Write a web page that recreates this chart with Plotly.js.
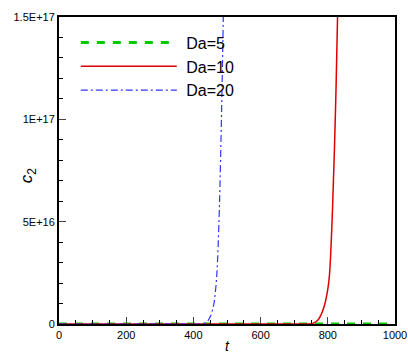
<!DOCTYPE html>
<html>
<head>
<meta charset="utf-8">
<script src="https://cdn.plot.ly/plotly-3.0.1.min.js"></script>
<style>html,body{margin:0;padding:0;background:#fff;}#chart{width:408px;height:354px;}</style>
</head>
<body>
<div id="chart"></div>
<script>
var tDa5 = [0, 100, 200, 300, 400, 500, 600, 700, 800, 900, 1000];
var cDa5 = [0, 0, 0, 0, 0, 0, 0, 0, 0, 0, 0];

var tDa10 = [0, 700, 740, 755, 770, 780, 790, 800, 805, 814, 823, 829, 832];
var cDa10 = [0, 0, 0, 0.003e17, 0.018e17, 0.045e17, 0.09e17, 0.17e17, 0.24e17, 0.56e17, 1.05e17, 1.5e17, 1.75e17];

var tDa20 = [0, 400, 428, 440, 450, 460, 465, 470, 477, 484, 489, 492];
var cDa20 = [0, 0, 0, 0.01e17, 0.035e17, 0.09e17, 0.15e17, 0.25e17, 0.55e17, 1.05e17, 1.5e17, 1.8e17];

var xTicks = [0, 200, 400, 600, 800, 1000];
var yTickVals = [0, 5e16, 1e17, 1.5e17];
var yTickText = ['0', '5E+16', '1E+17', '1.5E+17'];
var seriesNames = ['\u00a0Da=5', '\u00a0Da=10', '\u00a0Da=20'];

var traces = [
  {x: tDa5, y: cDa5, mode: 'lines', name: seriesNames[0],
   line: {color: '#00cc00', width: 3, dash: '8px,8px'}},
  {x: tDa10, y: cDa10, mode: 'lines', name: seriesNames[1], line: {color: '#dd0000', width: 1.5, shape: 'spline'}},
  {x: tDa20, y: cDa20, mode: 'lines', name: seriesNames[2],
   line: {color: '#3333ff', width: 1.2, dash: '7px,3px,2px,3px', shape: 'spline'}}
];

var layout = {
  width: 408, height: 354,
  margin: {l: 59, r: 13, t: 17, b: 30},
  paper_bgcolor: '#fff', plot_bgcolor: '#fff',
  font: {family: 'Liberation Sans, Arial, sans-serif', color: '#000', size: 11},
  showlegend: true,
  legend: {x: 0.05, y: 0.972, xanchor: 'left', yanchor: 'top', bgcolor: 'rgba(0,0,0,0)',
    font: {size: 16, family: 'Liberation Sans, Arial, sans-serif'}, itemwidth: 96, tracegroupgap: 0},
  xaxis: {
    range: [0, 1000], tickvals: xTicks, ticks: 'inside', ticklen: 7, tickwidth: 1.2,
    showline: true, linewidth: 2, linecolor: '#000', mirror: true, showgrid: false, zeroline: false,
    minor: {ticks: 'inside', dtick: 50, ticklen: 4, tickwidth: 1, tickcolor: '#000', showgrid: false},
    title: {text: '<i>t</i>', font: {size: 14}, standoff: 4},
    tickfont: {size: 11}
  },
  yaxis: {
    range: [0, 1.5e17], tickvals: yTickVals, ticktext: yTickText, ticks: 'inside', ticklen: 7, tickwidth: 1.2,
    showline: true, linewidth: 2, linecolor: '#000', mirror: true, showgrid: false, zeroline: false,
    minor: {ticks: 'inside', dtick: 1e16, tick0: 0, ticklen: 4, tickwidth: 1, tickcolor: '#000', showgrid: false},
    tickfont: {size: 11}
  },
  annotations: [{
    text: '<i>c</i><sub>2</sub>', xref: 'paper', yref: 'paper', x: -0.092, y: 0.485,
    xanchor: 'center', yanchor: 'middle', textangle: -90, showarrow: false,
    font: {size: 17, family: 'Liberation Sans, Arial, sans-serif', color: '#000'}
  }]
};

Plotly.newPlot('chart', traces, layout, {displayModeBar: false, staticPlot: true});
</script>
</body>
</html>
